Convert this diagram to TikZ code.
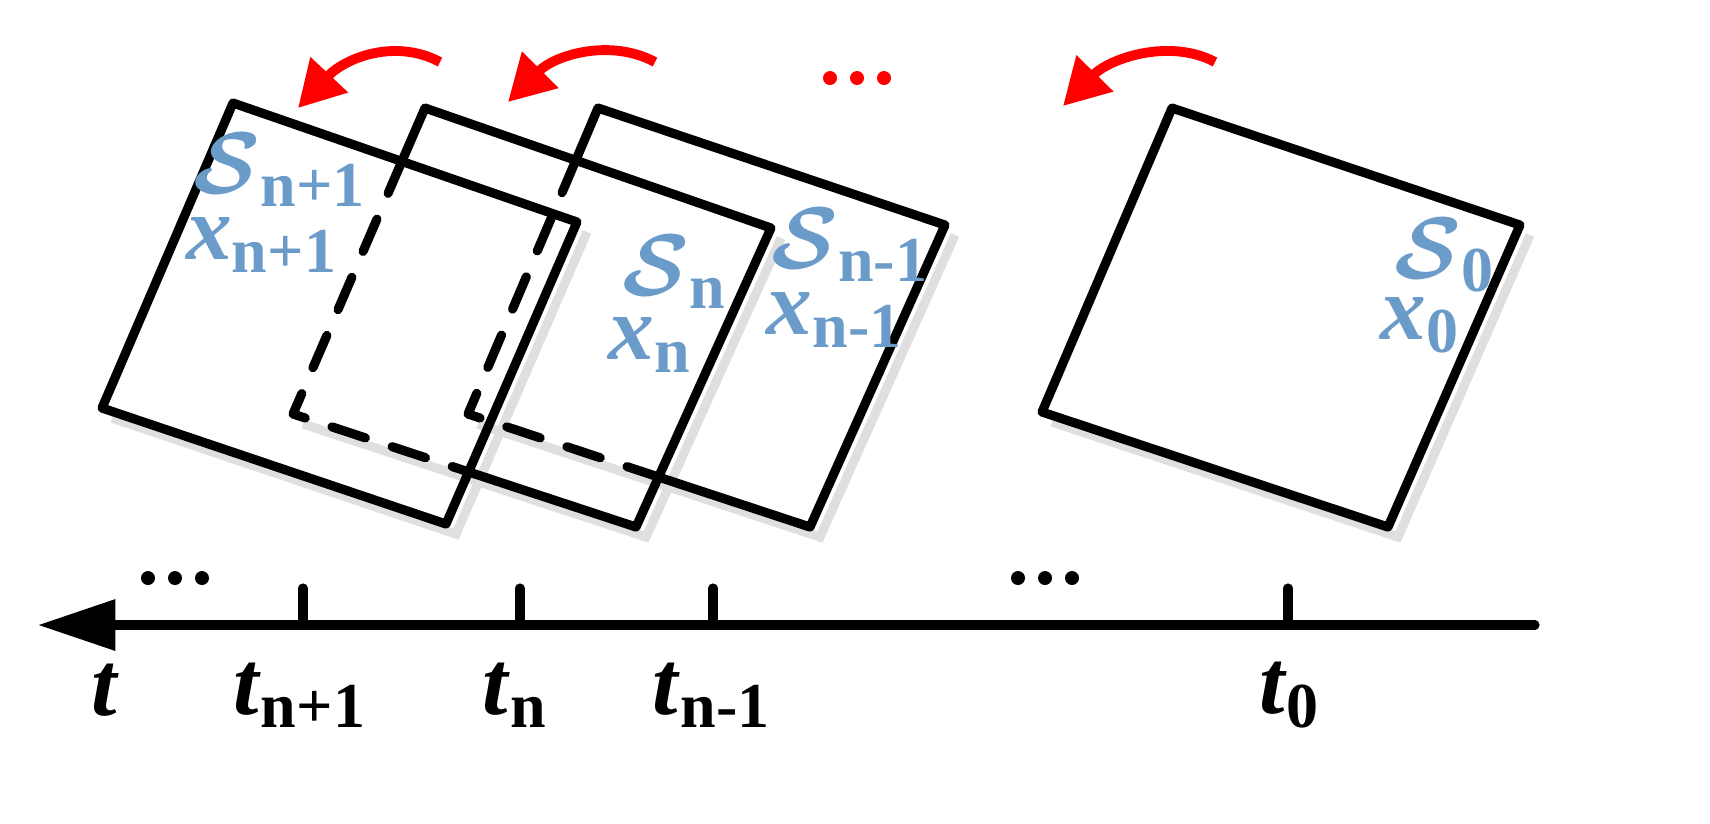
\documentclass[tikz,border=0pt]{standalone}
\usepackage{amsmath,bm}
\usepackage{fontspec}
\setmainfont{Liberation Serif}
\usetikzlibrary{arrows.meta}
\definecolor{lblue}{HTML}{6A9BC9}
\begin{document}
\begin{tikzpicture}[x=0.01cm,y=-0.01cm,
  edge/.style={line width=2.6pt,line join=round,line cap=round},
  hid/.style={edge,dash pattern=on 10pt off 8pt},
  shad/.style={line width=2.6pt,gray!25},
  red arrow/.style={line width=2.8pt,red,-{Triangle[length=13pt,width=14pt]}},
  lab/.style={lblue,font=\fontsize{26}{30}\selectfont\bfseries,inner sep=0pt},
  tl/.style={font=\fontsize{26}{30}\selectfont\bfseries,inner sep=0pt}]
\useasboundingbox (0,0) rectangle (1710,823);
% shadows
\draw[shad] (587,232)--(456,534)--(112,418);
\draw[shad] (781,238)--(646,537)--(303,424);
\draw[shad] (955,235)--(820,537)--(478,424);
\draw[shad] (1530,235)--(1398,537)--(1052,422);
% square 3 (n-1)
\coordinate (a3) at (598,108); \coordinate (b3) at (945,225);
\coordinate (c3) at (810,527); \coordinate (d3) at (468,414);
\draw[edge] (575.8,160.3)--(a3)--(b3)--(c3)--(658.5,477);
\draw[hid] (575.8,160.3)--(d3)--(658.5,477);
% square 2 (n)
\coordinate (a2) at (425,108); \coordinate (b2) at (771,228);
\coordinate (c2) at (636,527); \coordinate (d2) at (293,414);
\draw[edge] (402,161)--(a2)--(b2)--(c2)--(468.6,471.9);
\draw[hid] (402,161)--(d2)--(468.6,471.9);
% square 1 (n+1)
\draw[edge] (233,103)--(577,222)--(446,524)--(102,408)--cycle;
% square 0
\draw[edge] (1172,108)--(1520,225)--(1388,527)--(1042,412)--cycle;
% labels
\node[lab] at (280,170) {$\bm{\mathcal{S}}$\textsubscript{n+1}};
\node[lab] at (262,245) {\textit{x}\textsubscript{n+1}};
\node[lab] at (675,272) {$\bm{\mathcal{S}}$\textsubscript{n}};
\node[lab] at (650,345) {\textit{x}\textsubscript{n}};
\node[lab] at (850,245) {$\bm{\mathcal{S}}$\textsubscript{n-1}};
\node[lab] at (835,320) {\textit{x}\textsubscript{n-1}};
\node[lab] at (1445,255) {$\bm{\mathcal{S}}$\textsubscript{0}};
\node[lab] at (1420,325) {\textit{x}\textsubscript{0}};
% red arrows
\coordinate (r1s) at (440,62); \coordinate (r1e) at (298,108);
\coordinate (r2s) at (655,62); \coordinate (r2e) at (508,102);
\coordinate (r3s) at (1215,62); \coordinate (r3e) at (1063,106);
\draw[red arrow] (r1s) .. controls (395,38) and (345,58) .. (r1e);
\draw[red arrow] (r2s) .. controls (610,38) and (555,55) .. (r2e);
\draw[red arrow] (r3s) .. controls (1170,38) and (1110,58) .. (r3e);
\foreach \x in {830,857,884} \fill[red] (\x,78) circle (7);
% axis
\coordinate (ax1) at (1535,625); \coordinate (ax0) at (38,625);
\draw[edge,-{Triangle[length=22pt,width=14pt]}] (ax1)--(ax0);
\foreach \x in {303,520,713,1288} \draw[edge] (\x,625)--(\x,588);
\foreach \x in {148,175,202,1018,1045,1072} \fill (\x,578) circle (7);
\node[tl] at (105,690) {\textit{t}};
\node[tl] at (300,695) {\textit{t}\textsubscript{n+1}};
\node[tl] at (515,695) {\textit{t}\textsubscript{n}};
\node[tl] at (712,695) {\textit{t}\textsubscript{n-1}};
\node[tl] at (1290,695) {\textit{t}\textsubscript{0}};
\end{tikzpicture}
\end{document}
